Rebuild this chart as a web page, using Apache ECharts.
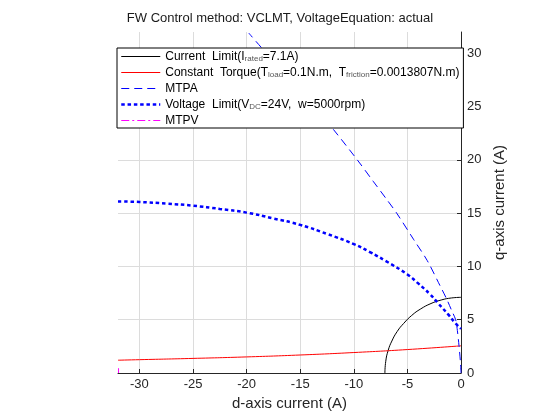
<!DOCTYPE html>
<html>
<head>
<meta charset="UTF-8">
<title>FW Control method</title>
<script src="https://cdn.jsdelivr.net/npm/echarts@6/dist/echarts.min.js"></script>
<style>
  html,body{margin:0;height:100%;background:#fff;}
  #chart{width:560px;height:420px;}
</style>
</head>
<body>
<div id="chart"></div>
<script>
// values, [id, iq] in A
const currentLimit = [[-7.1,0],[-7.02,1.1],[-6.8,2.1],[-6.45,3.0],[-5.95,3.9],[-5.35,4.65],[-4.6,5.4],[-3.75,6.02],[-2.8,6.52],[-1.85,6.85],[-0.9,7.04],[0,7.1]];
const constTorque  = [[-32,1.2],[-30,1.25],[-25,1.37],[-20,1.51],[-15,1.69],[-10,1.92],[-5,2.2],[0,2.55]];
const mtpa         = [[0,0],[-0.05,1],[-0.19,2.6],[-0.34,4.0],[-0.5,5],[-0.87,5.86],[-1.34,6.95],[-1.96,8.2],[-3.15,10.55],[-4.4,12.5],[-6.0,15],[-6.94,16.3],[-8.2,18],[-9.6,19.9],[-11.9,22.85],[-13.7,25],[-16.0,27.6],[-18.5,30.4],[-19.8,31.9]];
const voltageLimit = [[-32,16.1],[-30,16.05],[-27.5,15.9],[-25,15.7],[-22.5,15.4],[-20,15.05],[-17.5,14.5],[-15,13.9],[-12.5,13.05],[-10,12.1],[-8.5,11.35],[-7,10.5],[-5,9.25],[-4.1,8.5],[-2.9,7.4],[-2.1,6.5],[-1.2,5.5],[-0.55,4.7],[0,4.15]];
const mtpv         = [[-31.95,0],[-31.95,0.45]];

const xTicks = [-30,-25,-20,-15,-10,-5,0];
const yTicks = [0,5,10,15,20,25,30];

const names = ['Current Limit','Constant Torque','MTPA','Voltage Limit','MTPV'];
const legendText = {
  'Current Limit':   'Current  Limit(I{s|rated}=7.1A)',
  'Constant Torque': 'Constant  Torque(T{s|load}=0.1N.m,  T{s|friction}=0.0013807N.m)',
  'MTPA':            'MTPA',
  'Voltage Limit':   'Voltage  Limit(V{s|DC}=24V,  w=5000rpm)',
  'MTPV':            'MTPV'
};

const font = '"Liberation Sans", Arial, Helvetica, sans-serif';
const axisColor = '#262626';
const gridColor = '#dcdcdc';

const chart = echarts.init(document.getElementById('chart'));

chart.setOption({
  animation:false,
  textStyle:{fontFamily:font},
  title:{
    text:'FW Control method: VCLMT, VoltageEquation: actual',
    left:'center', top:7,
    textStyle:{fontSize:13, fontWeight:'normal', color:'#1a1a1a', fontFamily:font}
  },
  grid:{left:118, right:99, top:32, bottom:47},
  legend:{
    orient:'vertical', left:117, top:48,
    itemWidth:39, itemHeight:11, itemGap:4,
    padding:[2.5,4,1.5,3],
    backgroundColor:'#fff', borderColor:'#000', borderWidth:1,
    itemStyle:{color:'rgba(0,0,0,0)', borderWidth:0},
    lineStyle:{width:'inherit', opacity:1},
    data:names,
    formatter:n=>legendText[n],
    textStyle:{
      fontSize:12, lineHeight:12, color:'#000', fontFamily:font,
      rich:{ s:{fontSize:8, lineHeight:8, verticalAlign:'bottom', color:'#555', fontFamily:font} }
    }
  },
  xAxis:{
    type:'value', min:-32, max:0,
    name:'d-axis current (A)', nameLocation:'middle', nameGap:23,
    nameTextStyle:{fontSize:15, color:axisColor, fontFamily:font},
    axisLine:{lineStyle:{color:axisColor}},
    axisTick:{inside:true, length:4, customValues:xTicks, lineStyle:{color:axisColor}},
    axisLabel:{customValues:xTicks, fontSize:13, color:axisColor, margin:5, fontFamily:font},
    splitLine:{show:true, lineStyle:{color:gridColor}}
  },
  yAxis:{
    type:'value', min:0, max:32, position:'right',
    name:'q-axis current (A)', nameLocation:'middle', nameGap:23, nameRotate:90,
    nameTextStyle:{fontSize:15, color:axisColor, fontFamily:font},
    axisLine:{show:true, lineStyle:{color:axisColor}},
    axisTick:{show:true, inside:true, length:4, customValues:yTicks, lineStyle:{color:axisColor}},
    axisLabel:{customValues:yTicks, fontSize:13, color:axisColor, margin:6, fontFamily:font},
    splitLine:{show:true, lineStyle:{color:gridColor}}
  },
  series:[
    {name:'Current Limit', type:'line', data:currentLimit, symbol:'none', smooth:true,
     lineStyle:{color:'#000', width:1}, itemStyle:{color:'#000'}},
    {name:'Constant Torque', type:'line', data:constTorque, symbol:'none', smooth:true,
     lineStyle:{color:'#ff0000', width:1}, itemStyle:{color:'#ff0000'}},
    {name:'MTPA', type:'line', data:mtpa, symbol:'none', smooth:0.3,
     lineStyle:{color:'#0000ff', width:1, type:[8,5]}, itemStyle:{color:'#0000ff'}},
    {name:'Voltage Limit', type:'line', data:voltageLimit, symbol:'none', smooth:true,
     lineStyle:{color:'#0000ff', width:2.5, type:[3.5,2.8], cap:'butt'}, itemStyle:{color:'#0000ff'}},
    {name:'MTPV', type:'line', data:mtpv, symbol:'none',
     lineStyle:{color:'#ff00ff', width:1, type:[8,3,2,3]}, itemStyle:{color:'#ff00ff'}}
  ]
});
</script>
</body>
</html>
